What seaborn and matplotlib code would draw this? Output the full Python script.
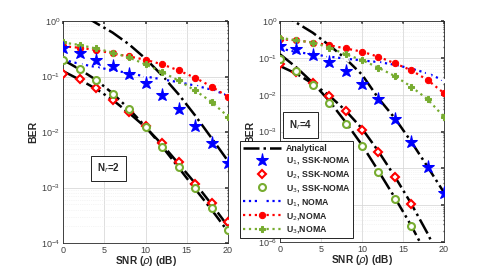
import matplotlib
matplotlib.use("Agg")
import matplotlib.pyplot as plt
import numpy as np
import pandas as pd
import seaborn as sns
from matplotlib.ticker import FixedLocator, NullFormatter

SNR = [0, 2, 4, 6, 8, 10, 12, 14, 16, 18, 20]

# N_r = 2 (left panel)
L_ANA_U1 = [2.0, 1.4, 0.92, 0.62, 0.38, 0.21, 0.105, 0.048, 0.02, 0.0078, 0.003]
L_ANA_U2 = [0.125, 0.088, 0.06, 0.038, 0.022, 0.0122, 0.006, 0.0027, 0.0012, 0.0005, 0.0002]
L_ANA_U3 = [0.2, 0.135, 0.087, 0.05, 0.026, 0.0125, 0.0055, 0.0023, 0.00095, 0.0004, 0.00016]
L_SSK_U1 = [0.32, 0.26, 0.2, 0.155, 0.11, 0.076, 0.046, 0.026, 0.0126, 0.0063, 0.0028]
L_SSK_U2 = [0.112, 0.089, 0.062, 0.038, 0.023, 0.0126, 0.0063, 0.0029, 0.00117, 0.00053, 0.00024]
L_SSK_U3 = [0.2, 0.134, 0.088, 0.048, 0.026, 0.0123, 0.0053, 0.0023, 0.00098, 0.00042, 0.00017]
L_NOMA_U1 = [0.2, 0.17, 0.148, 0.13, 0.115, 0.1, 0.089, 0.079, 0.069, 0.058, 0.046]
L_NOMA_U2 = [0.35, 0.33, 0.3, 0.26, 0.23, 0.2, 0.166, 0.129, 0.095, 0.066, 0.043]
L_NOMA_U3 = [0.41, 0.37, 0.32, 0.27, 0.22, 0.166, 0.12, 0.085, 0.056, 0.035, 0.019]

# N_r = 4 (right panel)
R_ANA_U1 = [1.7, 0.9, 0.48, 0.22, 0.095, 0.035, 0.008, 0.0023, 0.00053, 0.00011, 2.2e-5]
R_ANA_U2 = [0.06, 0.037, 0.02, 0.0095, 0.0037, 0.0012, 0.00029, 6e-5, 1.1e-5, 1.7e-6, 2e-7]
R_ANA_U3 = [0.125, 0.055, 0.021, 0.0068, 0.0018, 0.00043, 8.5e-5, 1.6e-5, 2.8e-6, 4e-7, 5e-8]
R_SSK_U1 = [0.21, 0.17, 0.117, 0.077, 0.044, 0.019, 0.0075, 0.0022, 0.00052, 0.000111, 2.2e-5]
R_SSK_U2 = [0.066, 0.041, 0.021, 0.0092, 0.0035, 0.0011, 0.00027, 5.9e-5, 1.1e-5]
R_SSK_U3 = [0.091, 0.044, 0.018, 0.006, 0.0016, 0.00041, 8.1e-5, 1.5e-5, 2.8e-6]
R_NOMA_U1 = [0.18, 0.144, 0.125, 0.108, 0.095, 0.085, 0.077, 0.065, 0.051, 0.038, 0.024]
R_NOMA_U2 = [0.32, 0.3, 0.26, 0.22, 0.18, 0.147, 0.107, 0.071, 0.046, 0.025, 0.011]
R_NOMA_U3 = [0.35, 0.3, 0.26, 0.19, 0.125, 0.087, 0.054, 0.032, 0.0165, 0.0075, 0.0025]

LEGEND_LABELS = ["Analytical", "U$_1$, SSK-NOMA", "U$_2$, SSK-NOMA", "U$_3$, SSK-NOMA",
                 "U$_1$, NOMA", "U$_2$,NOMA", "U$_3$,NOMA"]

BLUE = "#0000ff"
RED = "#ff0000"
GREEN = "#77ac30"


def draw_panel(ax, ana, ssk, noma, with_labels, lowest_exp):
    lab = LEGEND_LABELS if with_labels else [None] * 7
    for i, vals in enumerate(ana):
        sns.lineplot(x=SNR[:len(vals)], y=vals, ax=ax, color="black", linestyle="-.",
                     linewidth=1.8, label=lab[0] if i == 0 else None, zorder=3)
    styles = [
        dict(marker="*", markersize=9.5, color=BLUE, markerfacecolor=BLUE, markeredgecolor=BLUE),
        dict(marker="D", markersize=4.5, color=RED, markerfacecolor="white", markeredgecolor=RED,
             markeredgewidth=1.5),
        dict(marker="o", markersize=5, color=GREEN, markerfacecolor="white", markeredgecolor=GREEN,
             markeredgewidth=1.5),
    ]
    for i, vals in enumerate(ssk):
        sns.lineplot(x=SNR[:len(vals)], y=vals, ax=ax, linestyle="none", label=lab[1 + i],
                     zorder=4, **styles[i])
    nstyles = [
        dict(marker="x", markersize=4, color=BLUE, markeredgewidth=1.5),
        dict(marker="o", markersize=4.5, color=RED, markeredgecolor=RED),
        dict(marker="P", markersize=4.5, color=GREEN, markeredgecolor=GREEN),
    ]
    for i, vals in enumerate(noma):
        sns.lineplot(x=SNR[:len(vals)], y=vals, ax=ax, linestyle=":", linewidth=1.6,
                     label=lab[4 + i], zorder=3, **nstyles[i])

    ax.set_yscale("log")
    ax.set_xlim(0, 20)
    ax.set_ylim(10.0 ** lowest_exp, 1)
    ax.set_xticks([0, 5, 10, 15, 20])
    exps = range(lowest_exp, 1)
    ax.yaxis.set_major_locator(FixedLocator([10.0 ** k for k in exps]))
    ax.yaxis.set_minor_locator(FixedLocator([m * 10.0 ** k for k in range(lowest_exp, 0)
                                             for m in range(2, 10)]))
    ax.yaxis.set_minor_formatter(NullFormatter())
    ax.grid(True, which="major", color="#d9d9d9", linewidth=0.6)
    ax.grid(True, which="minor", color="#ebebeb", linewidth=0.5, linestyle=":")
    ax.tick_params(which="both", direction="in", labelsize=6.5, colors="#404040",
                   top=True, right=True, length=2, pad=2)
    ax.tick_params(which="minor", length=1)
    for s in ax.spines.values():
        s.set_color("#262626")
        s.set_linewidth(0.6)
    ax.set_xlabel("SNR ($\\rho$) (dB)", fontsize=7.3, fontweight="bold", va="center")
    ax.xaxis.set_label_coords(0.5, -0.08)
    ax.set_ylabel("BER", fontsize=7.5, fontweight="bold", labelpad=2)
    if ax.get_legend() is not None:
        ax.get_legend().remove()


sns.set_theme(style="white")
plt.rcParams["font.family"] = ["Liberation Sans", "DejaVu Sans"]
plt.rcParams["mathtext.fontset"] = "dejavusans"

fig = plt.figure(figsize=(4.91, 2.73), dpi=100)
ax1 = fig.add_axes([63 / 491, 1 - 243 / 273, 165 / 491, 222 / 273])
ax2 = fig.add_axes([280 / 491, 1 - 242 / 273, 164 / 491, 221 / 273])

draw_panel(ax1, [L_ANA_U1, L_ANA_U2, L_ANA_U3], [L_SSK_U1, L_SSK_U2, L_SSK_U3],
           [L_NOMA_U1, L_NOMA_U2, L_NOMA_U3], False, -4)
draw_panel(ax2, [R_ANA_U1, R_ANA_U2, R_ANA_U3], [R_SSK_U1, R_SSK_U2, R_SSK_U3],
           [R_NOMA_U1, R_NOMA_U2, R_NOMA_U3], True, -6)

box = dict(boxstyle="square,pad=0.6", facecolor="white", edgecolor="black", linewidth=0.6)
ax1.text(5.5, 0.0022, "N$_r$=2", fontsize=7, fontweight="bold", ha="center", va="center", bbox=box)
ax2.text(2.5, 0.0015, "N$_r$=4", fontsize=7, fontweight="bold", ha="center", va="center", bbox=box)

handles, labels = ax2.get_legend_handles_labels()
leg = ax2.legend(handles, labels, loc="lower left",
                 bbox_to_anchor=(240 / 491, 1 - 238 / 273), bbox_transform=fig.transFigure,
                 fontsize=6.3, frameon=True, fancybox=False, framealpha=1, edgecolor="black",
                 borderpad=0.3, labelspacing=0.32, handlelength=4.4, handletextpad=0.5,
                 borderaxespad=0)
leg.get_frame().set_linewidth(0.6)
for t in leg.get_texts():
    t.set_fontweight("bold")
leg.set_zorder(10)

fig.savefig("out.png", dpi=100)
